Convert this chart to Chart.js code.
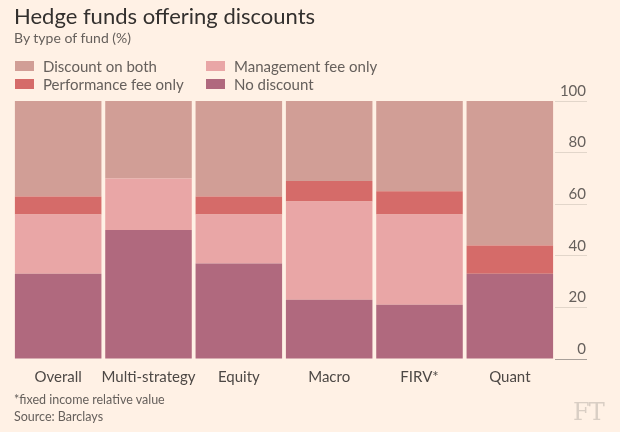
<!DOCTYPE html>
<html>
<head>
<meta charset="utf-8">
<script src="https://cdn.jsdelivr.net/npm/chart.js@4"></script>
<style>
  html, body { margin: 0; padding: 0; background: #fff1e5; }
  #wrap { position: relative; width: 620px; height: 432px; overflow: hidden; font-family: Lato, sans-serif; }
  #chart { position: absolute; left: 0; top: 0; }
  .txt { position: absolute; white-space: nowrap; }
  #title { left: 14px; top: 2px; font-size: 22px; color: #33302e; }
  #subtitle { left: 14px; top: 29px; font-size: 14px; color: #66605c; }
  .leg { position: absolute; font-size: 15px; color: #66605c; line-height: 18px; white-space: nowrap; }
  .leg i { position: absolute; left: 0; top: 4px; width: 19px; height: 10px; }
  .leg span { margin-left: 28px; }
  #note { left: 14px; top: 392px; font-size: 12.5px; color: #66605c; }
  #source { left: 14px; top: 409px; font-size: 12.5px; color: #66605c; }
  #ft { left: 573px; top: 398px; font-size: 24px; color: #d9cec4; font-family: "DejaVu Serif", serif; letter-spacing: -1px; }
</style>
</head>
<body>
<div id="wrap">
  <canvas id="chart" width="620" height="432"></canvas>
  <div class="txt" id="title">Hedge funds offering discounts</div>
  <div class="txt" id="subtitle">By type of fund (%)</div>
  <div id="legend"></div>
  <div class="txt" id="note">*fixed income relative value</div>
  <div class="txt" id="source">Source: Barclays</div>
  <div class="txt" id="ft">FT</div>
</div>
<script>
// ── Data ─────────────────────────────────────────────────
const categories = ["Overall", "Multi-strategy", "Equity", "Macro", "FIRV*", "Quant"];
const noDiscount = [33, 50, 37, 23, 21, 33];
const mgmtOnly   = [23, 20, 19, 38, 35, 0];
const perfOnly   = [7, 0, 7, 8, 9, 11];
const bothFees   = [37, 30, 37, 31, 35, 56];
const yTicks     = [0, 20, 40, 60, 80, 100];

// stacked bottom → top
const series = [
  { name: "No discount",          data: noDiscount, color: "#b0697e" },
  { name: "Management fee only",  data: mgmtOnly,   color: "#e9a6a6" },
  { name: "Performance fee only", data: perfOnly,   color: "#d56b69" },
  { name: "Discount on both",     data: bothFees,   color: "#d19e96" },
];

// ── Legend (2 columns, FT order) ─────────────────────────
const legendOrder = ["Discount on both", "Management fee only", "Performance fee only", "No discount"];
const legendEl = document.getElementById("legend");
legendOrder.forEach((name, i) => {
  const s = series.find(d => d.name === name);
  const div = document.createElement("div");
  div.className = "leg";
  div.style.left = (i % 2 === 0 ? 15 : 206) + "px";
  div.style.top = (i < 2 ? 57 : 75) + "px";
  div.innerHTML = `<i style="background:${s.color}"></i><span>${name}</span>`;
  legendEl.appendChild(div);
});

// ── Chart ────────────────────────────────────────────────
const ctx = document.getElementById("chart").getContext("2d");
new Chart(ctx, {
  type: "bar",
  data: {
    labels: categories,
    datasets: series.map(s => ({
      label: s.name,
      data: s.data,
      backgroundColor: s.color,
      borderWidth: 0,
      barPercentage: 0.958,
      categoryPercentage: 1,
    })),
  },
  options: {
    responsive: false,
    animation: false,
    layout: { padding: { left: 13, right: 0, top: 101, bottom: 37 } },
    plugins: {
      legend: { display: false },
      tooltip: { enabled: false },
    },
    scales: {
      x: {
        stacked: true,
        grid: { display: false, drawTicks: false },
        border: { display: false },
        ticks: { color: "#4d4845", font: { family: "Lato", size: 15 }, padding: 9, maxRotation: 0, autoSkip: false },
      },
      y: {
        stacked: true,
        position: "right",
        min: 0,
        max: 100,
        afterBuildTicks: scale => { scale.ticks = yTicks.map(v => ({ value: v })); },
        afterFit: scale => { scale.width = 65; },
        grid: {
          drawOnChartArea: false,
          drawTicks: true,
          tickLength: 32,
          color: c => (c.tick && c.tick.value === 0 ? "#a8a09a" : "#e2d6ca"),
        },
        border: { display: false },
        ticks: {
          mirror: true,
          padding: 31,
          labelOffset: -10,
          color: "#66605c",
          font: { family: "Lato", size: 15 },
        },
      },
    },
  },
});
</script>
</body>
</html>
